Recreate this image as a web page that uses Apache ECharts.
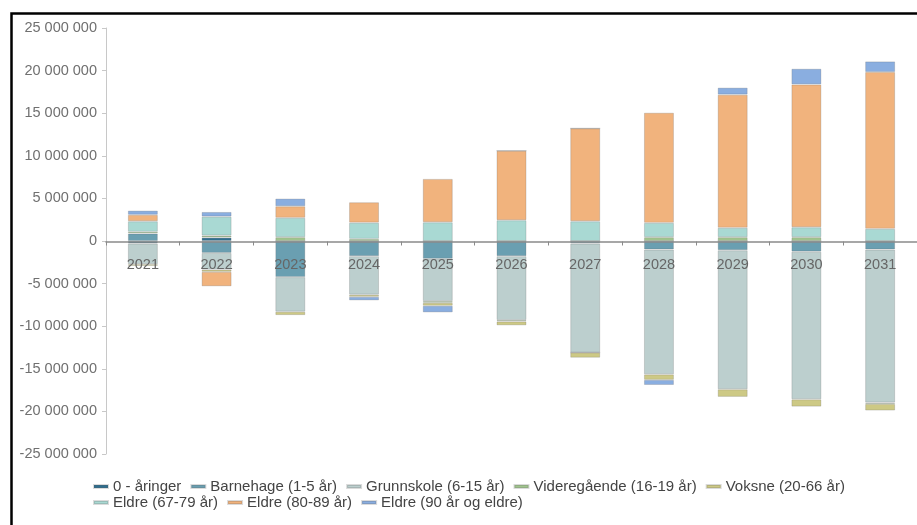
<!DOCTYPE html>
<html>
<head>
<meta charset="utf-8">
<script src="https://cdn.jsdelivr.net/npm/echarts@6/dist/echarts.min.js"></script>
<style>
html,body{margin:0;padding:0;background:#fff;}
#c{width:917px;height:525px;}
</style>
</head>
<body>
<div id="c"></div>
<script>
var categories = ['2021','2022','2023','2024','2025','2026','2027','2028','2029','2030','2031'];
var seriesNames = ['0 - åringer','Barnehage (1-5 år)','Grunnskole (6-15 år)','Videregående (16-19 år)','Voksne (20-66 år)','Eldre (67-79 år)','Eldre (80-89 år)','Eldre (90 år og eldre)'];
var nullaringer   = [-300000, 400000, 0, 0, 0, 0, 0, 0, 0, 0, 0];
var barnehage     = [880000, -1400000, -4240000, -1780000, -2090000, -1780000, -300000, -1000000, -1080000, -1250000, -1000000];
var grunnskole    = [-2420000, -1950000, -4060000, -4520000, -4960000, -7500000, -12800000, -14650000, -16320000, -17330000, -17970000];
var videregaende  = [200000, 230000, 450000, 250000, -200000, -160000, 0, 450000, 450000, 450000, -150000];
var voksne        = [-200000, -270000, -400000, -250000, -350000, -460000, -600000, -650000, -900000, -860000, -780000];
var eldre6779     = [1240000, 2230000, 2270000, 1900000, 2200000, 2440000, 2320000, 1680000, 1100000, 1170000, 1430000];
var eldre8089     = [750000, -1700000, 1360000, 2400000, 5090000, 8160000, 10900000, 12930000, 15630000, 16760000, 18400000];
var eldre90       = [500000, 550000, 900000, -420000, -780000, 0, 0, -600000, 820000, 1840000, 1250000];
var yTickValues = [-25000000,-20000000,-15000000,-10000000,-5000000,0,5000000,10000000,15000000,20000000,25000000];

var seriesData = [nullaringer, barnehage, grunnskole, videregaende, voksne, eldre6779, eldre8089, eldre90];
var colors = ['#2f6e8e','#6a9fb1','#bccfce','#a0c48e','#cdc985','#a9d9d3','#f1b37d','#8aaee0'];

function fmt(v){
  var neg = v < 0; var s = String(Math.abs(Math.round(v)));
  s = s.replace(/\B(?=(\d{3})+(?!\d))/g, ' ');
  return (neg ? '-' : '') + s;
}

var series = seriesNames.map(function(n, i){
  return {
    name: n, type: 'bar', stack: 'total', barWidth: 30,
    data: seriesData[i],
    itemStyle: { color: colors[i], borderColor: 'rgba(90,90,90,0.22)', borderWidth: 1 },
    emphasis: { disabled: true }
  };
});

var legendText = { color: '#444', fontSize: 15, fontFamily: 'Liberation Sans, Arial, sans-serif' };
var chart = echarts.init(document.getElementById('c'), null, {renderer: 'canvas'});
chart.setOption({
  animation: false,
  backgroundColor: '#fff',
  color: colors,
  grid: { left: 106, top: 28, width: 814, height: 426, containLabel: false },
  legend: [{
    left: 88, top: 474,
    data: seriesNames.slice(0,5),
    icon: 'rect', itemWidth: 14, itemHeight: 3, itemGap: 9,
    textStyle: legendText
  }, {
    left: 88, top: 490,
    data: seriesNames.slice(5),
    icon: 'rect', itemWidth: 14, itemHeight: 3, itemGap: 9,
    textStyle: legendText
  }],
  xAxis: {
    type: 'category', data: categories, z: 10, position: 'bottom', offset: -212.5,
    axisLine: { onZero: false, lineStyle: { color: '#8a8a8a', width: 1.5 } },
    axisTick: { show: true, length: 4, lineStyle: { color: '#8a8a8a' } },
    axisLabel: { color: '#666', fontSize: 14.5, margin: 16, fontFamily: 'Liberation Sans, Arial, sans-serif' },
    splitLine: { show: false }
  },
  yAxis: {
    type: 'value', min: -25000000, max: 25000000, interval: 5000000,
    axisLine: { show: true, lineStyle: { color: '#c8c8c8' } },
    axisTick: { show: true, length: 4, lineStyle: { color: '#c8c8c8' } },
    axisLabel: { color: '#707070', fontSize: 14.5, margin: 9, fontFamily: 'Liberation Sans, Arial, sans-serif',
      formatter: function(v){ return yTickValues.indexOf(v) >= 0 ? fmt(v) : ''; } },
    splitLine: { show: false }
  },
  graphic: [{
    type: 'rect', left: 9, top: 11, z: 100, silent: true,
    shape: { width: 1000, height: 1000 },
    style: { fill: 'none', stroke: '#000', lineWidth: 2.5 }
  }],
  series: series
});
</script>
</body>
</html>
